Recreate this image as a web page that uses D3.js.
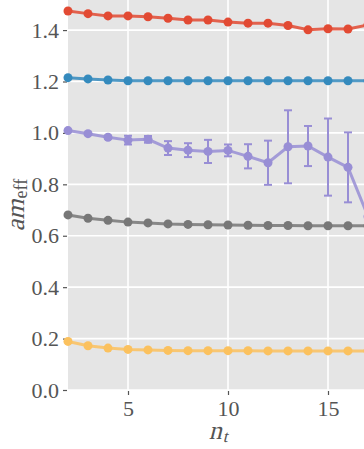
<!DOCTYPE html>
<html>
<head>
<meta charset="utf-8">
<script src="https://cdn.jsdelivr.net/npm/d3@7"></script>
<style>
  body { margin: 0; background: #fff; }
  svg { display: block; }
</style>
</head>
<body>
<div id="chart"></div>
<script>
// time slices
const nt = [2, 3, 4, 5, 6, 7, 8, 9, 10, 11, 12, 13, 14, 15, 16, 17];

const redVals    = [1.474, 1.464, 1.455, 1.455, 1.452, 1.446, 1.439, 1.439, 1.431, 1.427, 1.427, 1.418, 1.401, 1.405, 1.404, 1.42];
const blueVals   = [1.215, 1.210, 1.206, 1.203, 1.203, 1.203, 1.203, 1.203, 1.203, 1.203, 1.203, 1.203, 1.203, 1.203, 1.203, 1.203];
const purpleVals = [1.009, 0.997, 0.983, 0.972, 0.975, 0.941, 0.933, 0.928, 0.932, 0.909, 0.884, 0.946, 0.949, 0.906, 0.866, 0.675];
const purpleErr  = [0.004, 0.004, 0.006, 0.017, 0.013, 0.027, 0.027, 0.045, 0.023, 0.047, 0.086, 0.142, 0.078, 0.15, 0.136, 0.2];
const grayVals   = [0.681, 0.668, 0.660, 0.653, 0.650, 0.646, 0.644, 0.643, 0.642, 0.641, 0.640, 0.640, 0.639, 0.639, 0.639, 0.639];
const yellowVals = [0.189, 0.172, 0.163, 0.158, 0.156, 0.154, 0.153, 0.153, 0.153, 0.153, 0.152, 0.152, 0.152, 0.152, 0.152, 0.152];

const xTicks = [5, 10, 15];
const yTicks = [0.0, 0.2, 0.4, 0.6, 0.8, 1.0, 1.2, 1.4];

const series = [
  { vals: redVals,    err: null,      color: '#E24A33' },
  { vals: blueVals,   err: null,      color: '#348ABD' },
  { vals: purpleVals, err: purpleErr, color: '#988ED5' },
  { vals: grayVals,   err: null,      color: '#777777' },
  { vals: yellowVals, err: null,      color: '#FBC15E' }
];

const FONT = '"Liberation Serif"';
const TXT = '#555';
const W = 364, H = 449;
const left = 68, bottom = 390;

const svg = d3.select('#chart').append('svg')
  .attr('width', W).attr('height', H);

const x = d3.scaleLinear().domain([2, 17.5]).range([left, left + 15.5 * 20]);
const y = d3.scaleLinear().domain([0, 1.517]).range([bottom, 0]);

const plotW = x.range()[1] - left;

svg.append('rect')
  .attr('x', left).attr('y', 0)
  .attr('width', plotW).attr('height', bottom)
  .attr('fill', '#E5E5E5');

// grid
svg.append('g').selectAll('line').data(yTicks).enter().append('line')
  .attr('x1', left).attr('x2', left + plotW)
  .attr('y1', d => y(d)).attr('y2', d => y(d))
  .attr('stroke', '#fff').attr('stroke-width', 1.6);
svg.append('g').selectAll('line').data(xTicks).enter().append('line')
  .attr('x1', d => x(d)).attr('x2', d => x(d))
  .attr('y1', 0).attr('y2', bottom)
  .attr('stroke', '#fff').attr('stroke-width', 1.6);

// axes
const yAxis = svg.append('g')
  .attr('transform', `translate(${left - 1},0)`)
  .call(d3.axisLeft(y).tickValues(yTicks).tickFormat(d3.format('.1f')).tickSize(4).tickPadding(4));
const xAxis = svg.append('g')
  .attr('transform', `translate(0,${bottom + 1})`)
  .call(d3.axisBottom(x).tickValues(xTicks).tickSize(4).tickPadding(5));

[yAxis, xAxis].forEach(a => {
  a.select('.domain').remove();
  a.selectAll('.tick line').attr('stroke', TXT).attr('stroke-width', 1.2);
  a.selectAll('.tick text')
    .attr('fill', TXT)
    .style('font-family', FONT)
    .style('font-size', '22px');
});

// data
const plot = svg.append('g');
const line = d3.line().x((d, i) => x(nt[i])).y(d => y(d));

series.forEach(s => {
  const g = plot.append('g');
  if (s.err) {
    const eb = g.selectAll('g.eb').data(s.vals).enter().append('g');
    eb.append('line')
      .attr('x1', (d, i) => x(nt[i])).attr('x2', (d, i) => x(nt[i]))
      .attr('y1', (d, i) => y(d - s.err[i])).attr('y2', (d, i) => y(d + s.err[i]))
      .attr('stroke', s.color).attr('stroke-width', 2);
    [-1, 1].forEach(sg => {
      eb.append('line')
        .attr('x1', (d, i) => x(nt[i]) - 4).attr('x2', (d, i) => x(nt[i]) + 4)
        .attr('y1', (d, i) => y(d + sg * s.err[i])).attr('y2', (d, i) => y(d + sg * s.err[i]))
        .attr('stroke', s.color).attr('stroke-width', 2);
    });
  }
  g.append('path')
    .datum(s.vals)
    .attr('d', line)
    .attr('fill', 'none')
    .attr('stroke', s.color)
    .attr('stroke-width', 3)
    .attr('stroke-opacity', 0.85);
  g.selectAll('circle').data(s.vals).enter().append('circle')
    .attr('cx', (d, i) => x(nt[i]))
    .attr('cy', d => y(d))
    .attr('r', 4.5)
    .attr('fill', s.color);
});

// math-style label: slanted main part + subscript
// (italic face is not installed, so slant the upright glyphs)
function mathLabel(g, main, sub, subItalic, mainSize, subSize, subDy) {
  const m = g.append('g').attr('transform', 'skewX(-14)')
    .append('text')
    .attr('fill', TXT)
    .style('font-family', FONT)
    .style('font-size', mainSize + 'px')
    .text(main);
  const mw = m.node().getComputedTextLength();
  const sg = g.append('g').attr('transform', `translate(${mw + 1},${subDy})` + (subItalic ? ' skewX(-14)' : ''));
  const s = sg.append('text')
    .attr('fill', TXT)
    .style('font-family', FONT)
    .style('font-size', subSize + 'px')
    .text(sub);
  const sw = s.node().getComputedTextLength();
  return mw + 1 + sw;
}

const xl = svg.append('g');
const xlw = mathLabel(xl, 'n', 't', true, 26, 17, 3);
xl.attr('transform', `translate(${218 - xlw / 2},439)`);

const yl = svg.append('g');
const ylw = mathLabel(yl, 'am', 'eff', false, 26, 18, 3);
yl.attr('transform', `translate(24,205) rotate(-90) translate(${-ylw / 2},0)`);
</script>
</body>
</html>
